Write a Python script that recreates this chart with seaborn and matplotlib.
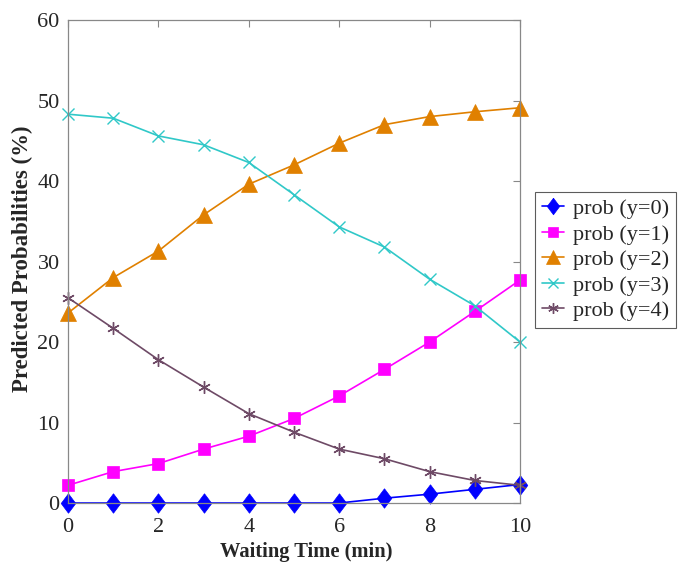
import matplotlib
matplotlib.use("Agg")
import matplotlib.pyplot as plt
import seaborn as sns
import pandas as pd

waiting_time = [0, 1, 2, 3, 4, 5, 6, 7, 8, 9, 10]
prob_y0 = [0.0, 0.0, 0.0, 0.0, 0.0, 0.0, 0.0, 0.6, 1.1, 1.7, 2.3]
prob_y1 = [2.2, 3.9, 4.9, 6.7, 8.3, 10.5, 13.3, 16.6, 20.0, 23.8, 27.7]
prob_y2 = [23.6, 28.0, 31.3, 35.8, 39.6, 42.0, 44.7, 47.0, 48.0, 48.6, 49.1]
prob_y3 = [48.3, 47.8, 45.6, 44.5, 42.3, 38.3, 34.3, 31.8, 27.8, 24.5, 20.0]
prob_y4 = [25.5, 21.7, 17.8, 14.4, 11.1, 8.8, 6.7, 5.5, 3.9, 2.8, 2.2]
series_names = ["prob (y=0)", "prob (y=1)", "prob (y=2)", "prob (y=3)", "prob (y=4)"]
x_ticks = [0, 2, 4, 6, 8, 10]
y_ticks = [0, 10, 20, 30, 40, 50, 60]

sns.set_style("white")
plt.rcParams["font.family"] = ["Liberation Serif", "DejaVu Serif"]

df = pd.DataFrame({"t": waiting_time, series_names[0]: prob_y0, series_names[1]: prob_y1,
                   series_names[2]: prob_y2, series_names[3]: prob_y3, series_names[4]: prob_y4})
long = df.melt(id_vars="t", var_name="series", value_name="p")

diamond = [(0, 1), (0.75, 0), (0, -1), (-0.75, 0), (0, 1)]
colors = ["#0000FF", "#FF00FF", "#E08000", "#30C8C8", "#6E4A66"]
markers = [diamond, "s", "^", "x", (6, 2, 0)]
msizes = [14, 8.5, 11.5, 8, 9]

fig = plt.figure(figsize=(6.78, 5.65), dpi=100)
ax = fig.add_axes([0.1003, 0.1097, 0.6667, 0.8549])

for name, c, m, ms in zip(series_names, colors, markers, msizes):
    sub = long[long["series"] == name]
    thin = isinstance(m, tuple) or m == "x"
    sns.lineplot(data=sub, x="t", y="p", ax=ax, color=c, marker=m, markersize=ms,
                 markeredgecolor=c, markerfacecolor=c, markeredgewidth=1.0 if thin else 0.5,
                 linewidth=1.2, label=name, legend=False, clip_on=False)

ax.set_xlim(0, 10)
ax.set_ylim(0, 60)
ax.set_xticks(x_ticks)
ax.set_yticks(y_ticks)
ax.tick_params(axis="both", direction="in", length=5, width=0.8, color="#888888",
               labelsize=16, labelcolor="#262626", top=True, right=True, pad=6)
ax.tick_params(axis="x", pad=11)
for s in ax.spines.values():
    s.set_color("#888888")
    s.set_linewidth(0.9)
ax.set_xlabel("Waiting Time (min)", fontsize=14.8, fontweight="bold")
ax.set_ylabel("Predicted Probabilities (%)", fontsize=16.5, fontweight="bold")
ax.xaxis.set_label_coords(0.527, -0.081)
ax.yaxis.set_label_coords(-0.077, 0.505)

handles, labels = ax.get_legend_handles_labels()
leg = fig.legend(handles, labels, loc="upper left", bbox_to_anchor=(535 / 678, 1 - 192 / 565),
                 fontsize=16, frameon=True, fancybox=False, edgecolor="#333333",
                 handlelength=1.0, handletextpad=0.4, labelspacing=0.22, borderpad=0.3,
                 borderaxespad=0, markerscale=0.85)
leg.get_frame().set_linewidth(0.8)

fig.savefig("out.png", dpi=100)
